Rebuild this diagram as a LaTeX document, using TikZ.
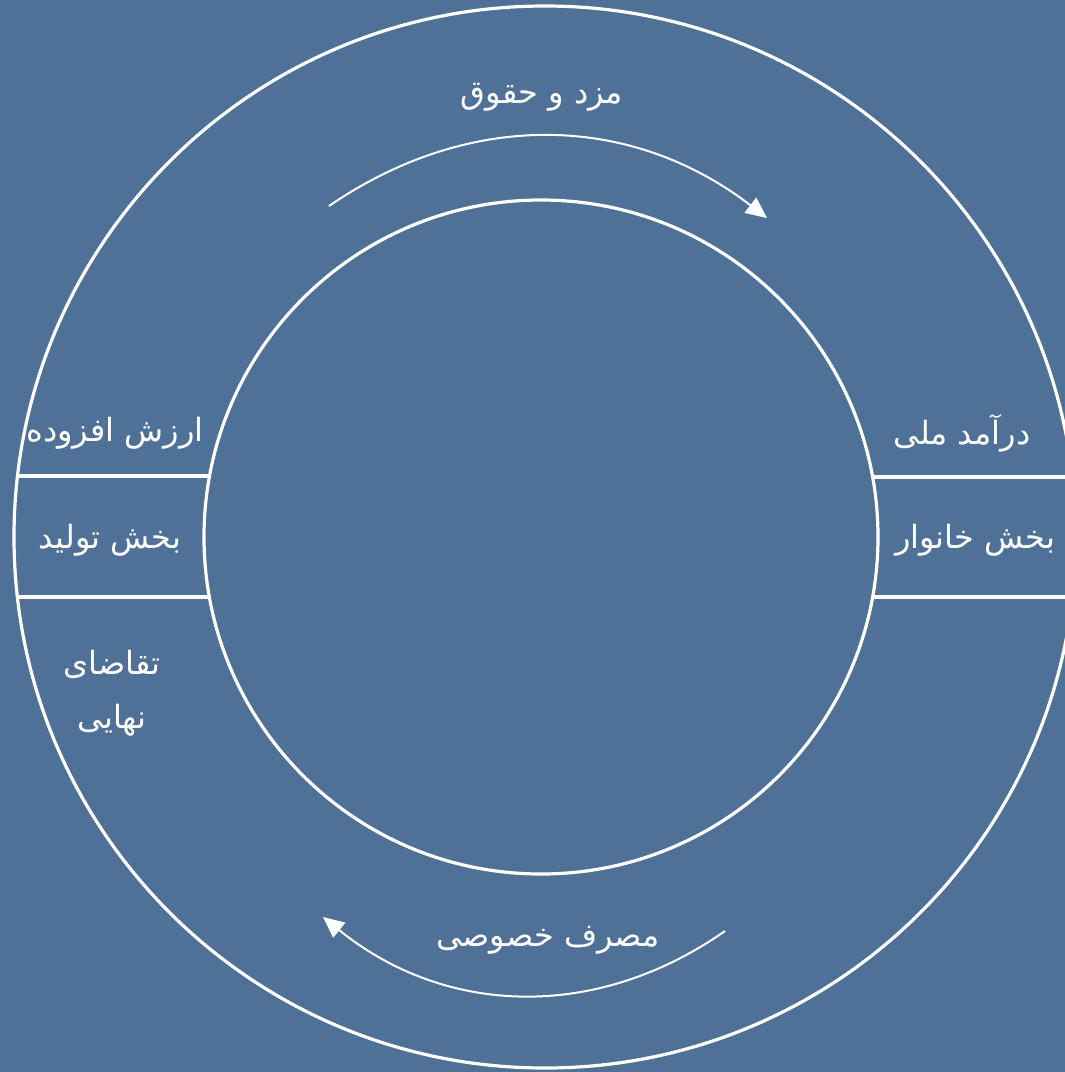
\documentclass[tikz,border=0pt]{standalone}
\usepackage{fontspec}
\usetikzlibrary{arrows.meta}
\newfontfamily\arabicfont[Script=Arabic]{DejaVu Sans}
\TeXXeTstate=1
\definecolor{bgblue}{RGB}{79,113,152}
\tikzset{
  ring/.style={draw=white, line width=3.2pt},
  divider/.style={draw=white, line width=3.2pt},
  flow/.style={draw=white, line width=2pt, -{Triangle[length=21pt,width=19pt]}},
  lbl/.style={text=white, font=\arabicfont\fontsize{32}{38}\selectfont, inner sep=0pt, align=center}
}
\begin{document}
\begin{tikzpicture}[x=1pt,y=-1pt]
\useasboundingbox (0,0) rectangle (1065,1072);
\clip (0,0) rectangle (1065,1072);
\fill[bgblue] (0,0) rectangle (1065,1072);
% circles
\node[ring, circle, minimum size=1062pt, inner sep=0pt] (outer) at (545,537) {};
\node[ring, circle, minimum size=674pt, inner sep=0pt] (inner) at (541,537) {};
% dividers
\coordinate (l1a) at (17.5,476); \coordinate (l1b) at (209.6,476);
\coordinate (l2a) at (17.5,597); \coordinate (l2b) at (209.6,597);
\coordinate (r1a) at (872.5,477); \coordinate (r1b) at (1065,477);
\coordinate (r2a) at (872.5,597); \coordinate (r2b) at (1065,597);
\draw[divider] (l1a) -- (l1b);
\draw[divider] (l2a) -- (l2b);
\draw[divider] (r1a) -- (r1b);
\draw[divider] (r2a) -- (r2b);
% arrows
\coordinate (ts) at (329,206); \coordinate (te) at (767,218);
\draw[flow] (ts) to[bend left=36] (te);
\coordinate (bs) at (725,931); \coordinate (be) at (323,917);
\draw[flow] (bs) to[bend left=37] (be);
% labels
\node[lbl] (wage) at (542,97) {\beginR مزد و حقوق\endR};
\node[lbl] (cons) at (548,940) {\beginR مصرف خصوصی\endR};
\node[lbl] (va) at (115,433) {\beginR ارزش افزوده\endR};
\node[lbl] (prod) at (110,540) {\beginR بخش تولید\endR};
\node[lbl] (dem1) at (112,664) {\beginR تقاضای\endR};
\node[lbl] (dem2) at (112,720) {\beginR نهایی\endR};
\node[lbl] (ni) at (962,433) {\beginR درآمد ملی\endR};
\node[lbl] (hh) at (975,540) {\beginR بخش خانوار\endR};
\end{tikzpicture}
\end{document}
